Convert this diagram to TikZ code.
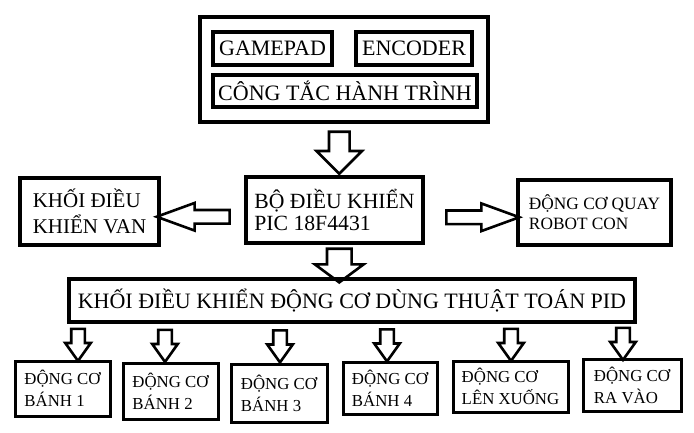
\documentclass[tikz,border=0pt]{standalone}
\usepackage{fontspec}
\setmainfont{Liberation Serif}
\usetikzlibrary{shapes.arrows}

\begin{document}
\begin{tikzpicture}[x=1pt, y=-1pt,
    box/.style={draw, line width=3.5pt, rectangle, align=left, inner sep=0pt, font=\fontsize{22}{26}\selectfont},
    smallbox/.style={box, line width=3pt, font=\fontsize{16.8}{22}\selectfont},
    fatarrow/.style={draw, line width=2.6pt, single arrow, single arrow head indent=0pt, outer sep=0pt},
    bigdown/.style={fatarrow, shape border rotate=270, inner sep=9pt, single arrow head extend=12.5pt, single arrow tip angle=90, minimum height=42pt},
    middown/.style={fatarrow, shape border rotate=270, inner sep=11pt, single arrow head extend=12pt, single arrow tip angle=107, minimum height=28pt},
    side/.style={fatarrow, inner sep=5.5pt, single arrow head extend=7pt, single arrow tip angle=40, minimum height=73pt},
    smalldown/.style={fatarrow, shape border rotate=270, inner sep=5.5pt, single arrow head extend=6pt, single arrow tip angle=71, minimum height=32pt}]
    \useasboundingbox (0,0) rectangle (694,432);

    %---------------- Top: inputs ----------------%
    \node[box, line width=4pt, minimum width=288pt, minimum height=105pt] (input) at (344,69.5) {};
    \node[box, minimum width=119pt, minimum height=33pt] (gamepad) at (272.5,48.5) {GAMEPAD};
    \node[box, minimum width=116pt, minimum height=33pt] (encoder) at (414,48.5) {ENCODER};
    \node[box, minimum width=264pt, minimum height=32pt] (congtac) at (345,91) {CÔNG TẮC HÀNH TRÌNH};

    %---------------- Middle row ----------------%
    \node[box, minimum width=177pt, minimum height=66pt, font=\fontsize{21.7}{21.5}\selectfont] (pic) at (334.5,210) {BỘ ĐIỀU KHIỂN\\PIC 18F4431};
    \node[box, minimum width=139pt, minimum height=67pt, font=\fontsize{21}{26}\selectfont] (van) at (89.5,211.5) {KHỐI ĐIỀU\\KHIỂN VAN};
    \node[box, minimum width=153pt, minimum height=65pt, font=\fontsize{17.3}{20}\selectfont] (quay) at (594.5,212.5) {ĐỘNG CƠ QUAY\\ROBOT CON};

    \path (input.south) -- node[bigdown, yshift=2pt] {} (pic.north);
    \path (pic.west) -- node[side, shape border rotate=180, yshift=-6pt] {} (van.east);
    \path (pic.east) -- node[side, xshift=3pt, yshift=-6pt] {} (quay.west);

    %---------------- PID block ----------------%
    \node[box, minimum width=566pt, minimum height=43pt] (pid) at (352,300.5) {KHỐI ĐIỀU KHIỂN ĐỘNG CƠ DÙNG THUẬT TOÁN PID};
    \path (pic.south) -- node[middown, xshift=-4pt] {} (pid.north);

    %---------------- Motors ----------------%
    \node[smallbox, minimum width=95pt, minimum height=55pt] (b1) at (62.5,388.5) {ĐỘNG CƠ\\BÁNH 1};
    \node[smallbox, minimum width=95pt, minimum height=56pt] (b2) at (170.5,391) {ĐỘNG CƠ\\BÁNH 2};
    \node[smallbox, minimum width=96pt, minimum height=58pt] (b3) at (279,393) {ĐỘNG CƠ\\BÁNH 3};
    \node[smallbox, minimum width=94pt, minimum height=52pt] (b4) at (390,388) {ĐỘNG CƠ\\BÁNH 4};
    \node[smallbox, minimum width=115pt, minimum height=51pt] (b5) at (510.5,386.5) {ĐỘNG CƠ\\LÊN XUỐNG};
    \node[smallbox, minimum width=98pt, minimum height=52pt] (b6) at (632,385) {ĐỘNG CƠ\\RA VÀO};

    \foreach \b/\x in {b1/78, b2/165, b3/280, b4/387, b5/511, b6/623}
        \path (pid.south -| \x,0) -- node[smalldown, yshift=1.5pt] {} (\b.north -| \x,0);
\end{tikzpicture}
\end{document}
